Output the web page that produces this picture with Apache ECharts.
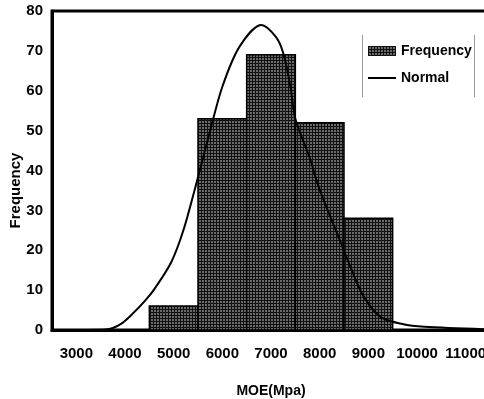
<!DOCTYPE html>
<html>
<head>
<meta charset="utf-8">
<script src="https://cdn.jsdelivr.net/npm/echarts@6/dist/echarts.min.js"></script>
<style>
  html, body { margin: 0; padding: 0; background: #fff; }
  #chart { width: 484px; height: 399px; }
</style>
</head>
<body>
<div id="chart"></div>
<script>
// histogram bins (MOE, Mpa)
const binStart = [4500, 5500, 6500, 7500, 8500];
const binEnd = [5500, 6500, 7500, 8500, 9500];
const freq = [6, 53, 69, 52, 28];

// fitted normal curve
const normalX = [3200, 3600, 3750, 3950, 4150, 4400, 4600, 4950, 5200, 5450, 5750, 6000, 6350, 6800, 7100, 7250, 7400, 7500, 7800, 7950, 8100, 8350, 8650, 8900, 9250, 9700, 10150, 11400];
const normalY = [0, 0.1, 0.5, 1.8, 4, 7.2, 10.2, 17, 25, 36, 50, 61, 71, 76.5, 73.5, 69.5, 61, 53, 43, 37, 32, 24.5, 15.3, 8.5, 3.3, 1.5, 0.8, 0.2];

const xLabels = [3000, 4000, 5000, 6000, 7000, 8000, 9000, 10000, 11000];

// grey screen-print fill like the scanned bars
const tile = document.createElement('canvas');
tile.width = 3;
tile.height = 3;
const tctx = tile.getContext('2d');
tctx.fillStyle = '#111';
tctx.fillRect(0, 0, 3, 3);
tctx.fillStyle = '#6a6a6a';
tctx.fillRect(1, 1, 2, 2);
const hatch = { image: tile, repeat: 'repeat' };

const font = "'Liberation Sans', Arial, sans-serif";

const chart = echarts.init(document.getElementById('chart'));

const option = {
  backgroundColor: '#fff',
  animation: false,
  grid: {
    left: 52,
    top: 11,
    right: -6,
    bottom: 69,
    outerBoundsMode: 'none',
    show: true,
    borderColor: '#000',
    borderWidth: 3,
  },
  legend: {
    orient: 'vertical',
    left: 362,
    top: 39,
    itemWidth: 28,
    itemHeight: 10,
    itemGap: 13,
    textStyle: { fontFamily: font, fontWeight: 'bold', fontSize: 14, color: '#000', letterSpacing: -0.6 },
    data: [
      { name: 'Frequency', icon: 'rect' },
      { name: 'Normal', itemStyle: { opacity: 0 }, lineStyle: { color: '#000', width: 2 } },
    ],
  },
  xAxis: {
    type: 'value',
    min: 2500,
    max: 11500,
    name: 'MOE(Mpa)',
    nameLocation: 'middle',
    nameGap: 54,
    nameTextStyle: { fontFamily: font, fontWeight: 'bold', fontSize: 14, color: '#000', letterSpacing: -0.8 },
    axisLine: { show: true, onZero: false, lineStyle: { color: '#000', width: 3 } },
    axisTick: { show: false },
    splitLine: { show: false },
    axisLabel: {
      customValues: xLabels,
      formatter: (v) => String(v),
      margin: 16,
      fontFamily: font,
      fontWeight: 'bold',
      fontSize: 15,
      letterSpacing: -1.2,
      color: '#000',
    },
  },
  yAxis: {
    type: 'value',
    min: 0,
    max: 80,
    interval: 10,
    name: 'Frequency',
    nameLocation: 'middle',
    nameGap: 29,
    nameMoveOverlap: false,
    nameTextStyle: { fontFamily: font, fontWeight: 'bold', fontSize: 15, color: '#000', padding: [0, 40, 0, 0] },
    axisLine: { show: true, lineStyle: { color: '#000', width: 3 } },
    axisTick: { show: false },
    splitLine: { show: false },
    axisLabel: { margin: 9, fontFamily: font, fontWeight: 'bold', fontSize: 15, letterSpacing: -0.8, color: '#000' },
  },
  graphic: [
    { type: 'line', shape: { x1: 362.5, y1: 35, x2: 362.5, y2: 97 }, style: { stroke: '#999', lineWidth: 1 } },
    { type: 'line', shape: { x1: 474.5, y1: 35, x2: 474.5, y2: 97 }, style: { stroke: '#999', lineWidth: 1 } },
  ],
  series: [
    {
      name: 'Frequency',
      type: 'custom',
      itemStyle: { color: hatch },
      encode: { x: [0, 1], y: 2 },
      data: binStart.map((s, i) => [s, binEnd[i], freq[i]]),
      renderItem: function (params, api) {
        const p0 = api.coord([api.value(0), api.value(2)]);
        const p1 = api.coord([api.value(1), 0]);
        return {
          type: 'rect',
          shape: { x: p0[0], y: p0[1], width: p1[0] - p0[0], height: p1[1] - p0[1] },
          style: { fill: hatch, stroke: '#000', lineWidth: 1.5 },
        };
      },
      z: 2,
    },
    {
      name: 'Normal',
      type: 'line',
      smooth: 0.3,
      symbol: 'none',
      lineStyle: { color: '#000', width: 2 },
      itemStyle: { color: '#000' },
      data: normalX.map((x, i) => [x, normalY[i]]),
      z: 3,
    },
  ],
};

chart.setOption(option);
</script>
</body>
</html>
